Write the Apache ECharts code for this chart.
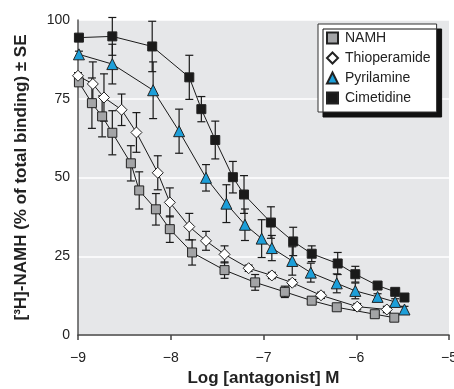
<!DOCTYPE html>
<html>
<head>
<meta charset="utf-8">
<script src="https://cdn.jsdelivr.net/npm/echarts@6/dist/echarts.min.js"></script>
<style>
  html, body { margin: 0; padding: 0; background: #fff; }
  #chart { width: 454px; height: 389px; }
</style>
</head>
<body>
<div id="chart"></div>
<script>
const FONT = "'Liberation Sans', Arial, sans-serif"

const xTicks = [-9, -8, -7, -6, -5]
const yTicks = [0, 25, 50, 75, 100]

const namhX = [-8.99, -8.85, -8.74, -8.63, -8.43, -8.34, -8.16, -8.01, -7.77, -7.42, -7.09, -6.77, -6.48, -6.21, -5.80, -5.59]
const namhY = [80.2, 73.6, 69.4, 64.2, 54.5, 45.9, 39.9, 33.6, 26.2, 20.6, 16.7, 13.7, 10.9, 8.8, 6.6, 5.5]
const namhErr = [1, 8, 6.5, 7, 5.6, 5.9, 5, 4.2, 4, 2.6, 2.5, 1.8, 1, 1, 1, 1]

const thioX = [-9.0, -8.84, -8.72, -8.53, -8.37, -8.14, -8.01, -7.80, -7.62, -7.42, -7.16, -6.91, -6.69, -6.38, -5.99, -5.67]
const thioY = [82.3, 79.7, 75.4, 71.5, 64.3, 51.5, 42.1, 34.4, 29.9, 25.6, 21.2, 18.9, 16.6, 12.6, 9.0, 8.1]
const thioErr = [1, 7, 7.5, 5, 6.3, 5.4, 4.6, 4.2, 3, 2.7, 1, 1, 1, 1, 1, 1]

const pyriX = [-8.99, -8.63, -8.19, -7.91, -7.62, -7.40, -7.20, -7.02, -6.91, -6.69, -6.49, -6.21, -6.01, -5.77, -5.58, -5.48]
const pyriY = [89.1, 86.0, 77.7, 64.7, 49.9, 41.7, 35.0, 30.6, 27.6, 23.5, 19.8, 16.4, 14.0, 12.1, 10.5, 8.1]
const pyriErr = [1, 6.3, 9, 7, 4.2, 6, 5, 6, 4, 4.5, 3, 3, 2.5, 1, 1, 1]

const cimeX = [-8.99, -8.63, -8.20, -7.80, -7.67, -7.52, -7.33, -7.21, -6.92, -6.68, -6.48, -6.20, -6.01, -5.77, -5.58, -5.48]
const cimeY = [94.4, 94.8, 91.6, 81.8, 71.7, 61.9, 50.1, 44.6, 35.7, 29.7, 25.8, 22.7, 19.3, 15.7, 13.7, 11.9]
const cimeErr = [1, 6, 8, 7, 4, 6, 5, 6, 5, 4.5, 2.5, 3.5, 2.5, 1, 1, 1]

const chart = echarts.init(document.getElementById('chart'))

const pairs = (xs, ys) => xs.map((x, i) => [x, ys[i]])

const errorSeries = (xs, ys, es) => ({
  type: 'custom',
  z: 1,
  silent: true,
  clip: false,
  data: xs.map((x, i) => [x, ys[i] - es[i], ys[i] + es[i]]),
  renderItem: (params, api) => {
    const lo = api.coord([api.value(0), api.value(1)])
    const hi = api.coord([api.value(0), api.value(2)])
    const w = 4
    const style = { stroke: '#1a1a1a', lineWidth: 1.2 }
    return {
      type: 'group',
      children: [
        { type: 'line', shape: { x1: lo[0], y1: lo[1], x2: hi[0], y2: hi[1] }, style },
        { type: 'line', shape: { x1: hi[0] - w, y1: hi[1], x2: hi[0] + w, y2: hi[1] }, style },
        { type: 'line', shape: { x1: lo[0] - w, y1: lo[1], x2: lo[0] + w, y2: lo[1] }, style }
      ]
    }
  }
})

const lineSeries = (name, xs, ys, symbol, size, color) => ({
  name: name,
  type: 'line',
  z: 3,
  data: pairs(xs, ys),
  symbol: symbol,
  symbolSize: size,
  showAllSymbol: true,
  lineStyle: { color: '#1a1a1a', width: 1 },
  itemStyle: { color: color, borderColor: '#222', borderWidth: 1 },
  emphasis: { disabled: true }
})

const option = {
  animation: false,
  textStyle: { fontFamily: FONT },
  grid: {
    left: 78,
    right: 5,
    top: 20,
    bottom: 54,
    show: true,
    backgroundColor: '#e6e7e9',
    borderWidth: 0,
    containLabel: false,
    outerBoundsMode: 'none'
  },
  legend: {
    left: 318,
    top: 24,
    orient: 'vertical',
    padding: [7, 6, 7, 8],
    itemGap: 6,
    itemWidth: 11,
    itemHeight: 11,
    backgroundColor: '#fff',
    borderColor: '#333',
    borderWidth: 1,
    shadowColor: '#111',
    shadowBlur: 0,
    shadowOffsetX: 5,
    shadowOffsetY: 5,
    textStyle: { fontFamily: FONT, fontSize: 14, color: '#222', lineHeight: 14, padding: [0, 0, 0, 2] },
    data: [
      { name: 'NAMH', icon: 'rect' },
      { name: 'Thioperamide', icon: 'diamond' },
      { name: 'Pyrilamine', icon: 'triangle' },
      { name: 'Cimetidine', icon: 'rect' }
    ]
  },
  xAxis: {
    type: 'value',
    min: xTicks[0],
    max: xTicks[xTicks.length - 1],
    interval: 1,
    name: 'Log [antagonist] M',
    nameLocation: 'middle',
    nameGap: 34,
    nameTextStyle: { fontFamily: FONT, fontSize: 17, fontWeight: 'bold', color: '#222' },
    axisLine: { lineStyle: { color: '#444', width: 1.5 } },
    axisTick: { show: true, length: 5, lineStyle: { color: '#444', width: 1.5 } },
    axisLabel: {
      fontSize: 14,
      color: '#222',
      margin: 16,
      formatter: (v) => String(v).replace('-', '\u2212')
    },
    splitLine: { show: false }
  },
  yAxis: {
    type: 'value',
    min: yTicks[0],
    max: yTicks[yTicks.length - 1],
    interval: 25,
    name: '[\u00b3H]-NAMH (% of total binding) \u00b1 SE',
    nameLocation: 'middle',
    nameGap: 48,
    nameRotate: 90,
    nameTextStyle: { fontFamily: FONT, fontSize: 17, fontWeight: 'bold', color: '#222' },
    axisLine: { show: true, lineStyle: { color: '#555', width: 1.5 } },
    axisTick: { show: false },
    axisLabel: { fontSize: 14, color: '#222', margin: 8 },
    splitLine: { show: true, lineStyle: { color: '#fff', width: 1.5 } }
  },
  series: [
    errorSeries(namhX, namhY, namhErr),
    errorSeries(thioX, thioY, thioErr),
    errorSeries(pyriX, pyriY, pyriErr),
    errorSeries(cimeX, cimeY, cimeErr),
    lineSeries('NAMH', namhX, namhY, 'rect', 9, '#a3a4a6'),
    lineSeries('Thioperamide', thioX, thioY, 'diamond', 11, '#ffffff'),
    lineSeries('Pyrilamine', pyriX, pyriY, 'triangle', 11, '#1d9fd9'),
    lineSeries('Cimetidine', cimeX, cimeY, 'rect', 9, '#1a1a1a')
  ]
}

chart.setOption(option)
</script>
</body>
</html>
